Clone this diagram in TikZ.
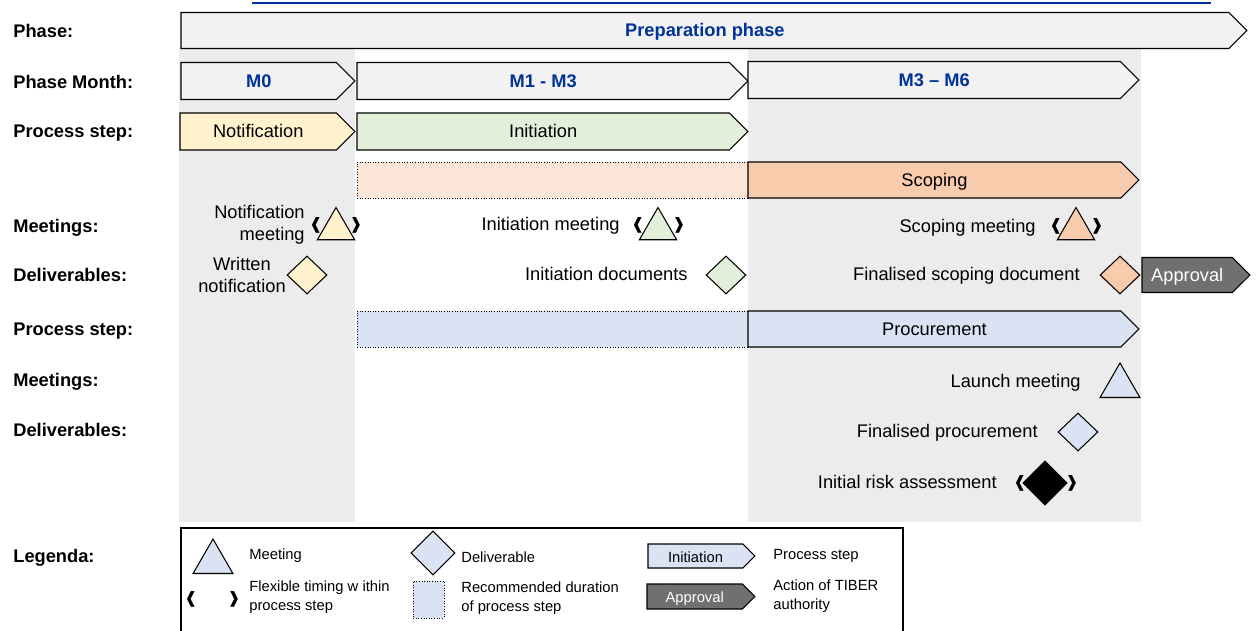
\documentclass[tikz,border=0pt]{standalone}
\usepackage{fontspec}
\setmainfont{Liberation Sans}
\setsansfont{Liberation Sans}
\newfontfamily\symfont{DejaVu Sans}
\usepackage{tikz}
\usetikzlibrary{shapes.symbols}
\usetikzlibrary{shapes.geometric}

\definecolor{tiberblue}{RGB}{0,51,153}
\definecolor{phasegray}{RGB}{242,242,242}
\definecolor{colbg}{RGB}{236,236,236}
\definecolor{notifcol}{RGB}{255,242,204}
\definecolor{initcol}{RGB}{226,240,217}
\definecolor{scopecol}{RGB}{248,203,173}
\definecolor{scopelite}{RGB}{251,229,214}
\definecolor{procol}{RGB}{218,227,243}
\definecolor{apprcol}{RGB}{112,112,112}

\newcommand*{\lbrk}{{\symfont\char"2770}}
\newcommand*{\rbrk}{{\symfont\char"2771}}

\begin{document}
\begin{tikzpicture}[x=0.02cm, y=-0.02cm,
  oneline/.style={text height=0.72em, text depth=0pt},
  mtxt/.style={font=\fontsize{10.4}{12.8}\selectfont, inner sep=0pt},
  txt/.style={mtxt, oneline},
  rowlbl/.style={txt, font=\fontsize{10.4}{12.8}\selectfont\bfseries, anchor=west},
  small/.style={font=\fontsize{8.4}{10.5}\selectfont, inner sep=0pt, anchor=west, align=left},
  stepbox/.style={signal, signal to=east, draw, line width=0.6pt, inner sep=0pt, outer sep=0pt, oneline,
    minimum height=0.74cm, font=\fontsize{10.4}{12.8}\selectfont, anchor=west},
  monthbox/.style={stepbox, fill=phasegray, text=tiberblue, font=\fontsize{10.4}{12.8}\selectfont\bfseries},
  recbox/.style={rectangle, draw, densely dotted, line width=0.5pt, inner sep=0pt, minimum height=0.72cm},
  meet/.style={regular polygon, regular polygon sides=3, draw, line width=0.6pt, inner sep=0pt, minimum size=0.86cm},
  deliv/.style={diamond, draw, line width=0.6pt, inner sep=0pt, minimum width=0.8cm, minimum height=0.76cm},
  flex/.style={inner sep=0pt, font=\fontsize{9}{9}\selectfont}]
\useasboundingbox (0,0) rectangle (1259,630);

% grey columns behind M0 and M3-M6
\fill[colbg] (179,48) rectangle (355,522);
\fill[colbg] (748,48) rectangle (1141,522);

% top line
\coordinate (topl) at (252,3);
\coordinate (topr) at (1211,3);
\draw[tiberblue, line width=1.1pt] (topl) -- (topr);

% row labels
\node[rowlbl] (lphase) at (13,31) {Phase:};
\node[rowlbl] (lmonth) at (13,82) {Phase Month:};
\node[rowlbl] (lstep1) at (13,131) {Process step:};
\node[rowlbl] (lmeet1) at (13,226) {Meetings:};
\node[rowlbl] (ldeliv1) at (13,275) {Deliverables:};
\node[rowlbl] (lstep2) at (13,329) {Process step:};
\node[rowlbl] (lmeet2) at (13,380) {Meetings:};
\node[rowlbl] (ldeliv2) at (13,430) {Deliverables:};
\node[rowlbl] (llegend) at (13,556) {Legenda:};

% phase and months
\node[monthbox, minimum width=21.32cm, minimum height=0.72cm] (phase) at (181,30.5) {Preparation phase};
\node[monthbox, minimum width=3.48cm] (m0) at (181,81) {M0};
\node[monthbox, minimum width=7.82cm] (m1) at (357,81) {M1 - M3};
\node[monthbox, minimum width=7.82cm] (m3) at (748,80) {M3 -- M6};

% process steps
\node[stepbox, fill=notifcol, minimum width=3.5cm] (notif) at (180,131.5) {Notification};
\node[stepbox, fill=initcol, minimum width=7.82cm] (init) at (357,131.5) {Initiation};
\node[recbox, fill=scopelite, minimum width=7.82cm] (scoperec) at (552.5,180) {};
\node[stepbox, fill=scopecol, minimum width=7.82cm, minimum height=0.72cm] (scope) at (748,180) {Scoping};
\node[recbox, fill=procol, minimum width=7.82cm] (procrec) at (552.5,329) {};
\node[stepbox, fill=procol, minimum width=7.82cm, minimum height=0.72cm] (proc) at (748,329) {Procurement};

% meetings
\node[mtxt, anchor=east, align=right] (nmtxt) at (305,225) {Notification\\meeting};
\node[meet, fill=notifcol] (nmeet) at (336,229) {};
\node[flex] (nml) at (316,225) {\lbrk};
\node[flex] (nmr) at (356,225) {\rbrk};
\node[txt, anchor=east] (imtxt) at (620,224) {Initiation meeting};
\node[meet, fill=initcol] (imeet) at (658,229) {};
\node[flex] (iml) at (638,225) {\lbrk};
\node[flex] (imr) at (679,225) {\rbrk};
\node[txt, anchor=east] (smtxt) at (1036,226) {Scoping meeting};
\node[meet, fill=scopecol] (smeet) at (1076,229) {};
\node[flex] (sml) at (1056,226) {\lbrk};
\node[flex] (smr) at (1097,226) {\rbrk};
\node[txt, anchor=east] (lmtxt) at (1081,381) {Launch meeting};
\node[meet, fill=procol, minimum size=0.92cm] (lmeet) at (1120,386) {};

% deliverables
\node[mtxt, align=center] (wntxt) at (242,275) {Written\\notification};
\node[deliv, fill=notifcol] (wndel) at (307,275) {};
\node[txt, anchor=east] (idtxt) at (688,274) {Initiation documents};
\node[deliv, fill=initcol] (iddel) at (726,275) {};
\node[txt, anchor=east] (fstxt) at (1080,274) {Finalised scoping document};
\node[deliv, fill=scopecol] (fsdel) at (1120,275) {};
\node[stepbox, fill=apprcol, text=white, minimum width=2.16cm, minimum height=0.7cm] (appr) at (1142,275) {Approval};
\node[txt, anchor=east] (fptxt) at (1038,431) {Finalised procurement};
\node[deliv, fill=procol] (fpdel) at (1078,432) {};
\node[txt, anchor=east] (ratxt) at (997,482) {Initial risk assessment};
\node[deliv, fill=black, minimum width=0.88cm, minimum height=0.88cm] (radel) at (1045,483) {};
\node[flex] (ral) at (1020,483) {\lbrk};
\node[flex] (rar) at (1072,483) {\rbrk};

% legend
\draw[line width=0.6pt] (181,640) |- (903,528) -- (903,640);
\node[meet, fill=procol, minimum size=0.92cm] (lgmeet) at (213,562) {};
\node[small] (lgmeettxt) at (249,556) {Meeting};
\node[flex] (lgl) at (191,599) {\lbrk};
\node[flex] (lgr) at (234,599) {\rbrk};
\node[small] (lgflextxt) at (249,597) {Flexible timing w ithin\\process step};
\node[deliv, fill=procol, minimum width=0.88cm, minimum height=0.88cm] (lgdel) at (433,553) {};
\node[small] (lgdeltxt) at (461,557) {Deliverable};
\node[recbox, fill=procol, minimum width=0.62cm, minimum height=0.74cm] (lgrec) at (428.5,599.5) {};
\node[small] (lgrectxt) at (461,598) {Recommended duration\\of process step};
\node[stepbox, fill=procol, minimum width=2.14cm, minimum height=0.48cm, font=\fontsize{8.4}{10}\selectfont] (lgstep) at (648,556) {Initiation};
\node[small] (lgsteptxt) at (773,556) {Process step};
\node[stepbox, fill=apprcol, text=white, minimum width=2.16cm, minimum height=0.5cm, font=\fontsize{8.4}{10}\selectfont] (lgappr) at (647,596.5) {Approval};
\node[small] (lgapprtxt) at (773,596) {Action of TIBER\\authority};
\end{tikzpicture}
\end{document}
